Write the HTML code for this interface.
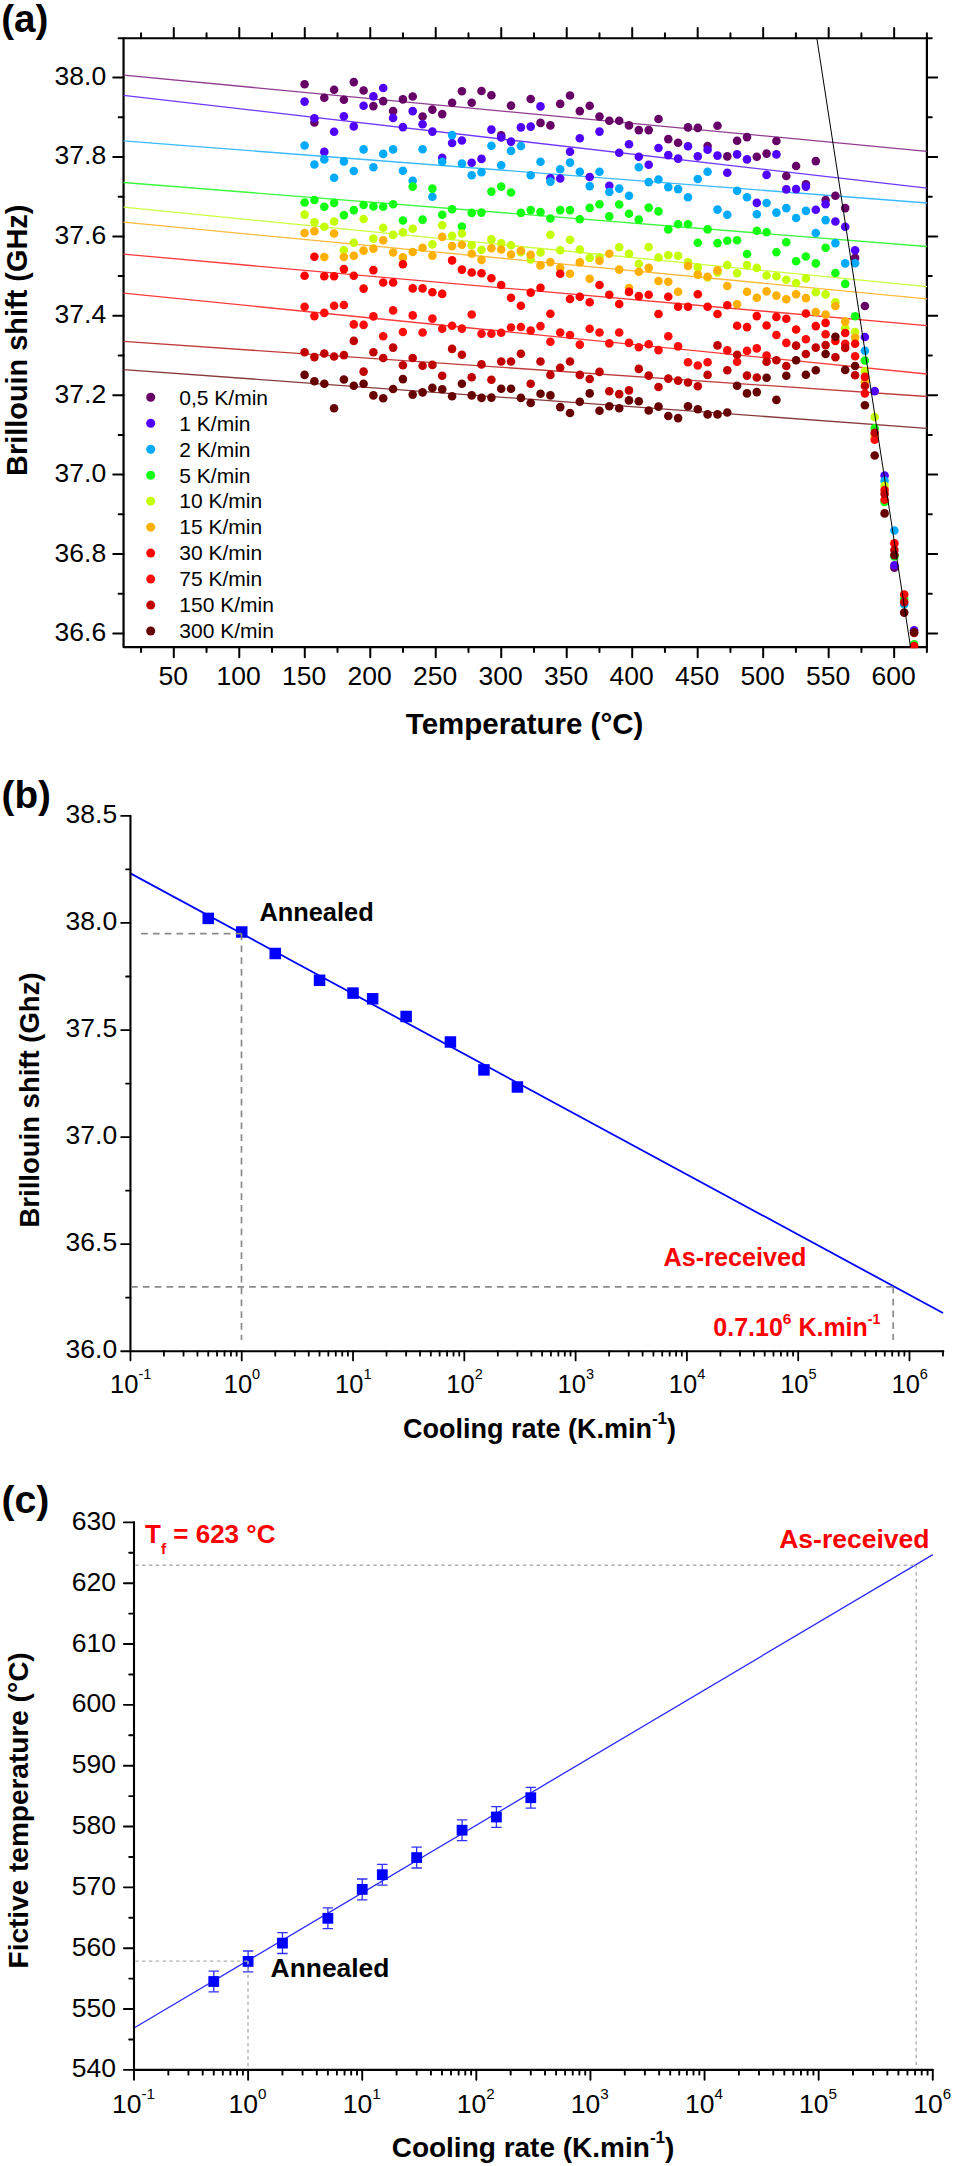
<!DOCTYPE html>
<html><head><meta charset="utf-8"><style>
html,body{margin:0;padding:0;background:#fff;width:954px;height:2166px;overflow:hidden;}
svg{display:block;font-family:"Liberation Sans", sans-serif;}
</style></head><body>
<svg width="954" height="2166" viewBox="0 0 954 2166">
<defs><clipPath id="clipA"><rect x="122.45" y="37.15" width="805.55" height="611.00"/></clipPath></defs>
<rect width="954" height="2166" fill="#fff"/>
<rect x="123.55" y="38.25" width="803.35" height="608.80" fill="none" stroke="#000" stroke-width="2.2" stroke-linejoin="round"/>
<text x="106.20" y="640.95" font-size="26.5" text-anchor="end" fill="#000" >36.6</text>
<text x="106.20" y="561.53" font-size="26.5" text-anchor="end" fill="#000" >36.8</text>
<text x="106.20" y="482.12" font-size="26.5" text-anchor="end" fill="#000" >37.0</text>
<text x="106.20" y="402.71" font-size="26.5" text-anchor="end" fill="#000" >37.2</text>
<text x="106.20" y="323.29" font-size="26.5" text-anchor="end" fill="#000" >37.4</text>
<text x="106.20" y="243.88" font-size="26.5" text-anchor="end" fill="#000" >37.6</text>
<text x="106.20" y="164.46" font-size="26.5" text-anchor="end" fill="#000" >37.8</text>
<text x="106.20" y="85.05" font-size="26.5" text-anchor="end" fill="#000" >38.0</text>
<text x="173.19" y="685.20" font-size="26.5" text-anchor="middle" fill="#000" >50</text>
<text x="238.68" y="685.20" font-size="26.5" text-anchor="middle" fill="#000" >100</text>
<text x="304.17" y="685.20" font-size="26.5" text-anchor="middle" fill="#000" >150</text>
<text x="369.66" y="685.20" font-size="26.5" text-anchor="middle" fill="#000" >200</text>
<text x="435.14" y="685.20" font-size="26.5" text-anchor="middle" fill="#000" >250</text>
<text x="500.63" y="685.20" font-size="26.5" text-anchor="middle" fill="#000" >300</text>
<text x="566.12" y="685.20" font-size="26.5" text-anchor="middle" fill="#000" >350</text>
<text x="631.61" y="685.20" font-size="26.5" text-anchor="middle" fill="#000" >400</text>
<text x="697.09" y="685.20" font-size="26.5" text-anchor="middle" fill="#000" >450</text>
<text x="762.58" y="685.20" font-size="26.5" text-anchor="middle" fill="#000" >500</text>
<text x="828.07" y="685.20" font-size="26.5" text-anchor="middle" fill="#000" >550</text>
<text x="893.56" y="685.20" font-size="26.5" text-anchor="middle" fill="#000" >600</text>
<path d="M123.55,633.45L113.25,633.45M926.90,633.45L937.20,633.45M123.55,593.74L118.65,593.74M926.90,593.74L931.80,593.74M123.55,554.03L113.25,554.03M926.90,554.03L937.20,554.03M123.55,514.33L118.65,514.33M926.90,514.33L931.80,514.33M123.55,474.62L113.25,474.62M926.90,474.62L937.20,474.62M123.55,434.91L118.65,434.91M926.90,434.91L931.80,434.91M123.55,395.21L113.25,395.21M926.90,395.21L937.20,395.21M123.55,355.50L118.65,355.50M926.90,355.50L931.80,355.50M123.55,315.79L113.25,315.79M926.90,315.79L937.20,315.79M123.55,276.08L118.65,276.08M926.90,276.08L931.80,276.08M123.55,236.38L113.25,236.38M926.90,236.38L937.20,236.38M123.55,196.67L118.65,196.67M926.90,196.67L931.80,196.67M123.55,156.96L113.25,156.96M926.90,156.96L937.20,156.96M123.55,117.26L118.65,117.26M926.90,117.26L931.80,117.26M123.55,77.55L113.25,77.55M926.90,77.55L937.20,77.55M123.55,38.25L118.65,38.25M926.90,38.25L931.80,38.25M141.05,38.25L141.05,33.35M141.05,647.05L141.05,651.95M173.79,38.25L173.79,28.05M173.79,647.05L173.79,657.25M206.54,38.25L206.54,33.35M206.54,647.05L206.54,651.95M239.28,38.25L239.28,28.05M239.28,647.05L239.28,657.25M272.02,38.25L272.02,33.35M272.02,647.05L272.02,651.95M304.77,38.25L304.77,28.05M304.77,647.05L304.77,657.25M337.51,38.25L337.51,33.35M337.51,647.05L337.51,651.95M370.26,38.25L370.26,28.05M370.26,647.05L370.26,657.25M403.00,38.25L403.00,33.35M403.00,647.05L403.00,651.95M435.74,38.25L435.74,28.05M435.74,647.05L435.74,657.25M468.49,38.25L468.49,33.35M468.49,647.05L468.49,651.95M501.23,38.25L501.23,28.05M501.23,647.05L501.23,657.25M533.98,38.25L533.98,33.35M533.98,647.05L533.98,651.95M566.72,38.25L566.72,28.05M566.72,647.05L566.72,657.25M599.46,38.25L599.46,33.35M599.46,647.05L599.46,651.95M632.21,38.25L632.21,28.05M632.21,647.05L632.21,657.25M664.95,38.25L664.95,33.35M664.95,647.05L664.95,651.95M697.69,38.25L697.69,28.05M697.69,647.05L697.69,657.25M730.44,38.25L730.44,33.35M730.44,647.05L730.44,651.95M763.18,38.25L763.18,28.05M763.18,647.05L763.18,657.25M795.92,38.25L795.92,33.35M795.92,647.05L795.92,651.95M828.67,38.25L828.67,28.05M828.67,647.05L828.67,657.25M861.41,38.25L861.41,33.35M861.41,647.05L861.41,651.95M894.16,38.25L894.16,28.05M894.16,647.05L894.16,657.25M926.90,38.25L926.90,33.35M926.90,647.05L926.90,651.95" stroke="#000" stroke-width="2.0" stroke-linecap="round" fill="none"/>
<text x="524.60" y="734.30" font-size="29.5" font-weight="bold" text-anchor="middle" fill="#000" >Temperature (°C)</text>
<text transform="translate(27.3,340.3) rotate(-90)" font-size="28.9" font-weight="bold" text-anchor="middle">Brillouin shift (GHz)</text>
<text x="1.20" y="31.70" font-size="38.7" font-weight="bold" text-anchor="start" fill="#000" >(a)</text>
<g clip-path="url(#clipA)">
<line x1="123.55" y1="75.20" x2="926.90" y2="151.30" stroke="#903c90" stroke-width="1.35" />
<line x1="123.55" y1="95.30" x2="926.90" y2="188.20" stroke="#7038ff" stroke-width="1.35" />
<line x1="123.55" y1="140.90" x2="926.90" y2="203.00" stroke="#3cbaff" stroke-width="1.35" />
<line x1="123.55" y1="182.50" x2="926.90" y2="246.50" stroke="#3cf83c" stroke-width="1.35" />
<line x1="123.55" y1="207.20" x2="926.90" y2="286.70" stroke="#caff3c" stroke-width="1.35" />
<line x1="123.55" y1="222.20" x2="926.90" y2="298.80" stroke="#ffba3c" stroke-width="1.35" />
<line x1="123.55" y1="254.20" x2="926.90" y2="325.70" stroke="#ff3a3a" stroke-width="1.35" />
<line x1="123.55" y1="293.10" x2="926.90" y2="374.00" stroke="#ff3c3c" stroke-width="1.35" />
<line x1="123.55" y1="341.40" x2="926.90" y2="396.50" stroke="#c03c3c" stroke-width="1.35" />
<line x1="123.55" y1="369.60" x2="926.90" y2="428.30" stroke="#883a3a" stroke-width="1.35" />
<circle cx="304.6" cy="84.3" r="4.3" fill="#660066"/>
<circle cx="314.4" cy="122.5" r="4.3" fill="#660066"/>
<circle cx="324.3" cy="97.7" r="4.3" fill="#660066"/>
<circle cx="334.1" cy="89.8" r="4.3" fill="#660066"/>
<circle cx="343.9" cy="99.7" r="4.3" fill="#660066"/>
<circle cx="353.8" cy="82.1" r="4.3" fill="#660066"/>
<circle cx="363.6" cy="90.5" r="4.3" fill="#660066"/>
<circle cx="373.4" cy="106.1" r="4.3" fill="#660066"/>
<circle cx="383.2" cy="101.1" r="4.3" fill="#660066"/>
<circle cx="393.1" cy="111.1" r="4.3" fill="#660066"/>
<circle cx="402.9" cy="99.4" r="4.3" fill="#660066"/>
<circle cx="412.7" cy="96.5" r="4.3" fill="#660066"/>
<circle cx="422.6" cy="116.5" r="4.3" fill="#660066"/>
<circle cx="432.4" cy="109.6" r="4.3" fill="#660066"/>
<circle cx="442.2" cy="114.1" r="4.3" fill="#660066"/>
<circle cx="452.1" cy="102.7" r="4.3" fill="#660066"/>
<circle cx="461.9" cy="91.3" r="4.3" fill="#660066"/>
<circle cx="471.7" cy="102.7" r="4.3" fill="#660066"/>
<circle cx="481.5" cy="91.0" r="4.3" fill="#660066"/>
<circle cx="491.4" cy="95.2" r="4.3" fill="#660066"/>
<circle cx="501.2" cy="135.4" r="4.3" fill="#660066"/>
<circle cx="511.0" cy="105.6" r="4.3" fill="#660066"/>
<circle cx="530.7" cy="99.0" r="4.3" fill="#660066"/>
<circle cx="540.5" cy="122.9" r="4.3" fill="#660066"/>
<circle cx="550.4" cy="125.4" r="4.3" fill="#660066"/>
<circle cx="560.2" cy="103.9" r="4.3" fill="#660066"/>
<circle cx="570.0" cy="95.5" r="4.3" fill="#660066"/>
<circle cx="579.8" cy="111.1" r="4.3" fill="#660066"/>
<circle cx="589.7" cy="105.8" r="4.3" fill="#660066"/>
<circle cx="599.5" cy="116.5" r="4.3" fill="#660066"/>
<circle cx="609.3" cy="120.8" r="4.3" fill="#660066"/>
<circle cx="619.2" cy="120.8" r="4.3" fill="#660066"/>
<circle cx="629.0" cy="125.4" r="4.3" fill="#660066"/>
<circle cx="638.8" cy="130.1" r="4.3" fill="#660066"/>
<circle cx="648.7" cy="130.1" r="4.3" fill="#660066"/>
<circle cx="658.5" cy="119.0" r="4.3" fill="#660066"/>
<circle cx="668.3" cy="139.1" r="4.3" fill="#660066"/>
<circle cx="678.1" cy="142.7" r="4.3" fill="#660066"/>
<circle cx="688.0" cy="127.4" r="4.3" fill="#660066"/>
<circle cx="697.8" cy="127.9" r="4.3" fill="#660066"/>
<circle cx="707.6" cy="146.0" r="4.3" fill="#660066"/>
<circle cx="717.5" cy="125.7" r="4.3" fill="#660066"/>
<circle cx="727.3" cy="156.4" r="4.3" fill="#660066"/>
<circle cx="737.1" cy="140.8" r="4.3" fill="#660066"/>
<circle cx="747.0" cy="137.1" r="4.3" fill="#660066"/>
<circle cx="756.8" cy="156.7" r="4.3" fill="#660066"/>
<circle cx="766.6" cy="153.6" r="4.3" fill="#660066"/>
<circle cx="776.4" cy="141.0" r="4.3" fill="#660066"/>
<circle cx="786.3" cy="176.0" r="4.3" fill="#660066"/>
<circle cx="796.1" cy="166.0" r="4.3" fill="#660066"/>
<circle cx="805.9" cy="184.4" r="4.3" fill="#660066"/>
<circle cx="815.8" cy="161.1" r="4.3" fill="#660066"/>
<circle cx="825.6" cy="200.0" r="4.3" fill="#660066"/>
<circle cx="835.4" cy="195.8" r="4.3" fill="#660066"/>
<circle cx="845.2" cy="208.1" r="4.3" fill="#660066"/>
<circle cx="855.1" cy="257.9" r="4.3" fill="#660066"/>
<circle cx="864.9" cy="306.0" r="4.3" fill="#660066"/>
<circle cx="894.4" cy="567.7" r="4.3" fill="#660066"/>
<circle cx="304.6" cy="101.6" r="4.3" fill="#4f00ff"/>
<circle cx="314.4" cy="118.3" r="4.3" fill="#4f00ff"/>
<circle cx="324.3" cy="151.9" r="4.3" fill="#4f00ff"/>
<circle cx="334.1" cy="131.8" r="4.3" fill="#4f00ff"/>
<circle cx="343.9" cy="116.3" r="4.3" fill="#4f00ff"/>
<circle cx="353.8" cy="126.4" r="4.3" fill="#4f00ff"/>
<circle cx="363.6" cy="105.8" r="4.3" fill="#4f00ff"/>
<circle cx="373.4" cy="96.4" r="4.3" fill="#4f00ff"/>
<circle cx="383.2" cy="88.0" r="4.3" fill="#4f00ff"/>
<circle cx="393.1" cy="118.0" r="4.3" fill="#4f00ff"/>
<circle cx="402.9" cy="127.1" r="4.3" fill="#4f00ff"/>
<circle cx="412.7" cy="111.1" r="4.3" fill="#4f00ff"/>
<circle cx="422.6" cy="124.2" r="4.3" fill="#4f00ff"/>
<circle cx="432.4" cy="131.6" r="4.3" fill="#4f00ff"/>
<circle cx="442.2" cy="157.7" r="4.3" fill="#4f00ff"/>
<circle cx="452.1" cy="143.0" r="4.3" fill="#4f00ff"/>
<circle cx="461.9" cy="140.5" r="4.3" fill="#4f00ff"/>
<circle cx="471.7" cy="162.8" r="4.3" fill="#4f00ff"/>
<circle cx="481.5" cy="158.9" r="4.3" fill="#4f00ff"/>
<circle cx="491.4" cy="129.6" r="4.3" fill="#4f00ff"/>
<circle cx="501.2" cy="137.5" r="4.3" fill="#4f00ff"/>
<circle cx="511.0" cy="141.6" r="4.3" fill="#4f00ff"/>
<circle cx="520.9" cy="127.4" r="4.3" fill="#4f00ff"/>
<circle cx="530.7" cy="126.6" r="4.3" fill="#4f00ff"/>
<circle cx="540.5" cy="106.4" r="4.3" fill="#4f00ff"/>
<circle cx="550.4" cy="178.2" r="4.3" fill="#4f00ff"/>
<circle cx="560.2" cy="178.5" r="4.3" fill="#4f00ff"/>
<circle cx="570.0" cy="151.7" r="4.3" fill="#4f00ff"/>
<circle cx="579.8" cy="138.3" r="4.3" fill="#4f00ff"/>
<circle cx="589.7" cy="177.0" r="4.3" fill="#4f00ff"/>
<circle cx="599.5" cy="131.6" r="4.3" fill="#4f00ff"/>
<circle cx="609.3" cy="185.8" r="4.3" fill="#4f00ff"/>
<circle cx="619.2" cy="152.7" r="4.3" fill="#4f00ff"/>
<circle cx="629.0" cy="144.2" r="4.3" fill="#4f00ff"/>
<circle cx="638.8" cy="156.7" r="4.3" fill="#4f00ff"/>
<circle cx="648.7" cy="164.8" r="4.3" fill="#4f00ff"/>
<circle cx="658.5" cy="148.0" r="4.3" fill="#4f00ff"/>
<circle cx="668.3" cy="155.1" r="4.3" fill="#4f00ff"/>
<circle cx="678.1" cy="158.6" r="4.3" fill="#4f00ff"/>
<circle cx="688.0" cy="146.3" r="4.3" fill="#4f00ff"/>
<circle cx="697.8" cy="156.4" r="4.3" fill="#4f00ff"/>
<circle cx="707.6" cy="149.7" r="4.3" fill="#4f00ff"/>
<circle cx="717.5" cy="155.6" r="4.3" fill="#4f00ff"/>
<circle cx="727.3" cy="172.7" r="4.3" fill="#4f00ff"/>
<circle cx="737.1" cy="154.4" r="4.3" fill="#4f00ff"/>
<circle cx="747.0" cy="159.4" r="4.3" fill="#4f00ff"/>
<circle cx="756.8" cy="202.9" r="4.3" fill="#4f00ff"/>
<circle cx="766.6" cy="174.9" r="4.3" fill="#4f00ff"/>
<circle cx="776.4" cy="154.4" r="4.3" fill="#4f00ff"/>
<circle cx="786.3" cy="189.4" r="4.3" fill="#4f00ff"/>
<circle cx="796.1" cy="189.1" r="4.3" fill="#4f00ff"/>
<circle cx="805.9" cy="186.6" r="4.3" fill="#4f00ff"/>
<circle cx="815.8" cy="209.7" r="4.3" fill="#4f00ff"/>
<circle cx="825.6" cy="204.2" r="4.3" fill="#4f00ff"/>
<circle cx="835.4" cy="221.5" r="4.3" fill="#4f00ff"/>
<circle cx="845.2" cy="226.8" r="4.3" fill="#4f00ff"/>
<circle cx="855.1" cy="250.3" r="4.3" fill="#4f00ff"/>
<circle cx="864.9" cy="337.0" r="4.3" fill="#4f00ff"/>
<circle cx="874.7" cy="391.1" r="4.3" fill="#4f00ff"/>
<circle cx="884.6" cy="475.5" r="4.3" fill="#4f00ff"/>
<circle cx="894.4" cy="565.2" r="4.3" fill="#4f00ff"/>
<circle cx="914.1" cy="630.2" r="4.3" fill="#4f00ff"/>
<circle cx="304.6" cy="145.5" r="4.3" fill="#00aaff"/>
<circle cx="314.4" cy="164.5" r="4.3" fill="#00aaff"/>
<circle cx="324.3" cy="159.4" r="4.3" fill="#00aaff"/>
<circle cx="334.1" cy="177.7" r="4.3" fill="#00aaff"/>
<circle cx="343.9" cy="161.4" r="4.3" fill="#00aaff"/>
<circle cx="353.8" cy="171.0" r="4.3" fill="#00aaff"/>
<circle cx="363.6" cy="149.4" r="4.3" fill="#00aaff"/>
<circle cx="373.4" cy="167.3" r="4.3" fill="#00aaff"/>
<circle cx="383.2" cy="153.9" r="4.3" fill="#00aaff"/>
<circle cx="393.1" cy="149.4" r="4.3" fill="#00aaff"/>
<circle cx="402.9" cy="170.7" r="4.3" fill="#00aaff"/>
<circle cx="412.7" cy="180.7" r="4.3" fill="#00aaff"/>
<circle cx="422.6" cy="149.2" r="4.3" fill="#00aaff"/>
<circle cx="432.4" cy="196.7" r="4.3" fill="#00aaff"/>
<circle cx="442.2" cy="161.8" r="4.3" fill="#00aaff"/>
<circle cx="452.1" cy="135.1" r="4.3" fill="#00aaff"/>
<circle cx="461.9" cy="163.6" r="4.3" fill="#00aaff"/>
<circle cx="471.7" cy="175.2" r="4.3" fill="#00aaff"/>
<circle cx="481.5" cy="172.3" r="4.3" fill="#00aaff"/>
<circle cx="491.4" cy="145.8" r="4.3" fill="#00aaff"/>
<circle cx="501.2" cy="165.3" r="4.3" fill="#00aaff"/>
<circle cx="511.0" cy="150.9" r="4.3" fill="#00aaff"/>
<circle cx="520.9" cy="146.0" r="4.3" fill="#00aaff"/>
<circle cx="530.7" cy="175.2" r="4.3" fill="#00aaff"/>
<circle cx="540.5" cy="161.8" r="4.3" fill="#00aaff"/>
<circle cx="550.4" cy="181.6" r="4.3" fill="#00aaff"/>
<circle cx="560.2" cy="169.3" r="4.3" fill="#00aaff"/>
<circle cx="570.0" cy="162.6" r="4.3" fill="#00aaff"/>
<circle cx="579.8" cy="171.7" r="4.3" fill="#00aaff"/>
<circle cx="589.7" cy="186.1" r="4.3" fill="#00aaff"/>
<circle cx="599.5" cy="171.7" r="4.3" fill="#00aaff"/>
<circle cx="609.3" cy="192.0" r="4.3" fill="#00aaff"/>
<circle cx="619.2" cy="188.6" r="4.3" fill="#00aaff"/>
<circle cx="629.0" cy="195.8" r="4.3" fill="#00aaff"/>
<circle cx="638.8" cy="167.3" r="4.3" fill="#00aaff"/>
<circle cx="648.7" cy="182.1" r="4.3" fill="#00aaff"/>
<circle cx="658.5" cy="179.5" r="4.3" fill="#00aaff"/>
<circle cx="668.3" cy="187.1" r="4.3" fill="#00aaff"/>
<circle cx="678.1" cy="189.1" r="4.3" fill="#00aaff"/>
<circle cx="688.0" cy="197.2" r="4.3" fill="#00aaff"/>
<circle cx="697.8" cy="179.0" r="4.3" fill="#00aaff"/>
<circle cx="707.6" cy="171.8" r="4.3" fill="#00aaff"/>
<circle cx="717.5" cy="209.6" r="4.3" fill="#00aaff"/>
<circle cx="727.3" cy="214.8" r="4.3" fill="#00aaff"/>
<circle cx="737.1" cy="190.8" r="4.3" fill="#00aaff"/>
<circle cx="747.0" cy="197.2" r="4.3" fill="#00aaff"/>
<circle cx="756.8" cy="214.3" r="4.3" fill="#00aaff"/>
<circle cx="766.6" cy="203.0" r="4.3" fill="#00aaff"/>
<circle cx="776.4" cy="212.6" r="4.3" fill="#00aaff"/>
<circle cx="786.3" cy="208.1" r="4.3" fill="#00aaff"/>
<circle cx="796.1" cy="218.0" r="4.3" fill="#00aaff"/>
<circle cx="805.9" cy="210.9" r="4.3" fill="#00aaff"/>
<circle cx="815.8" cy="233.0" r="4.3" fill="#00aaff"/>
<circle cx="825.6" cy="220.1" r="4.3" fill="#00aaff"/>
<circle cx="835.4" cy="243.1" r="4.3" fill="#00aaff"/>
<circle cx="845.2" cy="263.4" r="4.3" fill="#00aaff"/>
<circle cx="855.1" cy="263.2" r="4.3" fill="#00aaff"/>
<circle cx="864.9" cy="350.7" r="4.3" fill="#00aaff"/>
<circle cx="884.6" cy="480.9" r="4.3" fill="#00aaff"/>
<circle cx="894.4" cy="530.5" r="4.3" fill="#00aaff"/>
<circle cx="904.2" cy="604.2" r="4.3" fill="#00aaff"/>
<circle cx="304.6" cy="202.5" r="4.3" fill="#11ff11"/>
<circle cx="314.4" cy="200.0" r="4.3" fill="#11ff11"/>
<circle cx="324.3" cy="206.7" r="4.3" fill="#11ff11"/>
<circle cx="334.1" cy="202.9" r="4.3" fill="#11ff11"/>
<circle cx="343.9" cy="215.1" r="4.3" fill="#11ff11"/>
<circle cx="353.8" cy="210.1" r="4.3" fill="#11ff11"/>
<circle cx="363.6" cy="205.0" r="4.3" fill="#11ff11"/>
<circle cx="373.4" cy="206.4" r="4.3" fill="#11ff11"/>
<circle cx="383.2" cy="206.7" r="4.3" fill="#11ff11"/>
<circle cx="393.1" cy="204.2" r="4.3" fill="#11ff11"/>
<circle cx="402.9" cy="220.5" r="4.3" fill="#11ff11"/>
<circle cx="412.7" cy="186.6" r="4.3" fill="#11ff11"/>
<circle cx="422.6" cy="219.6" r="4.3" fill="#11ff11"/>
<circle cx="432.4" cy="188.6" r="4.3" fill="#11ff11"/>
<circle cx="442.2" cy="214.8" r="4.3" fill="#11ff11"/>
<circle cx="452.1" cy="209.2" r="4.3" fill="#11ff11"/>
<circle cx="461.9" cy="226.5" r="4.3" fill="#11ff11"/>
<circle cx="471.7" cy="212.9" r="4.3" fill="#11ff11"/>
<circle cx="481.5" cy="212.6" r="4.3" fill="#11ff11"/>
<circle cx="491.4" cy="191.6" r="4.3" fill="#11ff11"/>
<circle cx="501.2" cy="186.6" r="4.3" fill="#11ff11"/>
<circle cx="511.0" cy="192.5" r="4.3" fill="#11ff11"/>
<circle cx="520.9" cy="212.9" r="4.3" fill="#11ff11"/>
<circle cx="530.7" cy="210.1" r="4.3" fill="#11ff11"/>
<circle cx="540.5" cy="212.1" r="4.3" fill="#11ff11"/>
<circle cx="550.4" cy="218.5" r="4.3" fill="#11ff11"/>
<circle cx="560.2" cy="210.1" r="4.3" fill="#11ff11"/>
<circle cx="570.0" cy="210.1" r="4.3" fill="#11ff11"/>
<circle cx="579.8" cy="219.3" r="4.3" fill="#11ff11"/>
<circle cx="589.7" cy="207.9" r="4.3" fill="#11ff11"/>
<circle cx="599.5" cy="204.2" r="4.3" fill="#11ff11"/>
<circle cx="609.3" cy="216.4" r="4.3" fill="#11ff11"/>
<circle cx="619.2" cy="204.5" r="4.3" fill="#11ff11"/>
<circle cx="629.0" cy="213.8" r="4.3" fill="#11ff11"/>
<circle cx="638.8" cy="219.6" r="4.3" fill="#11ff11"/>
<circle cx="648.7" cy="207.6" r="4.3" fill="#11ff11"/>
<circle cx="658.5" cy="211.4" r="4.3" fill="#11ff11"/>
<circle cx="668.3" cy="229.4" r="4.3" fill="#11ff11"/>
<circle cx="678.1" cy="224.3" r="4.3" fill="#11ff11"/>
<circle cx="688.0" cy="224.3" r="4.3" fill="#11ff11"/>
<circle cx="697.8" cy="242.8" r="4.3" fill="#11ff11"/>
<circle cx="707.6" cy="229.4" r="4.3" fill="#11ff11"/>
<circle cx="717.5" cy="243.1" r="4.3" fill="#11ff11"/>
<circle cx="727.3" cy="240.8" r="4.3" fill="#11ff11"/>
<circle cx="737.1" cy="240.3" r="4.3" fill="#11ff11"/>
<circle cx="756.8" cy="230.7" r="4.3" fill="#11ff11"/>
<circle cx="747.0" cy="254.0" r="4.3" fill="#11ff11"/>
<circle cx="766.6" cy="232.2" r="4.3" fill="#11ff11"/>
<circle cx="776.4" cy="252.3" r="4.3" fill="#11ff11"/>
<circle cx="786.3" cy="242.3" r="4.3" fill="#11ff11"/>
<circle cx="796.1" cy="261.2" r="4.3" fill="#11ff11"/>
<circle cx="805.9" cy="256.5" r="4.3" fill="#11ff11"/>
<circle cx="815.8" cy="263.4" r="4.3" fill="#11ff11"/>
<circle cx="825.6" cy="247.8" r="4.3" fill="#11ff11"/>
<circle cx="835.4" cy="273.0" r="4.3" fill="#11ff11"/>
<circle cx="845.2" cy="283.9" r="4.3" fill="#11ff11"/>
<circle cx="855.1" cy="316.2" r="4.3" fill="#11ff11"/>
<circle cx="864.9" cy="360.5" r="4.3" fill="#11ff11"/>
<circle cx="874.7" cy="428.4" r="4.3" fill="#11ff11"/>
<circle cx="884.6" cy="501.9" r="4.3" fill="#11ff11"/>
<circle cx="894.4" cy="556.4" r="4.3" fill="#11ff11"/>
<circle cx="904.2" cy="599.1" r="4.3" fill="#11ff11"/>
<circle cx="914.1" cy="644.4" r="4.3" fill="#11ff11"/>
<circle cx="304.6" cy="214.6" r="4.3" fill="#c4ff05"/>
<circle cx="314.4" cy="222.3" r="4.3" fill="#c4ff05"/>
<circle cx="324.3" cy="226.8" r="4.3" fill="#c4ff05"/>
<circle cx="334.1" cy="221.5" r="4.3" fill="#c4ff05"/>
<circle cx="343.9" cy="250.3" r="4.3" fill="#c4ff05"/>
<circle cx="353.8" cy="242.8" r="4.3" fill="#c4ff05"/>
<circle cx="363.6" cy="219.0" r="4.3" fill="#c4ff05"/>
<circle cx="373.4" cy="238.6" r="4.3" fill="#c4ff05"/>
<circle cx="383.2" cy="227.7" r="4.3" fill="#c4ff05"/>
<circle cx="393.1" cy="234.9" r="4.3" fill="#c4ff05"/>
<circle cx="402.9" cy="232.4" r="4.3" fill="#c4ff05"/>
<circle cx="412.7" cy="228.8" r="4.3" fill="#c4ff05"/>
<circle cx="432.4" cy="244.4" r="4.3" fill="#c4ff05"/>
<circle cx="442.2" cy="225.2" r="4.3" fill="#c4ff05"/>
<circle cx="452.1" cy="235.7" r="4.3" fill="#c4ff05"/>
<circle cx="461.9" cy="233.5" r="4.3" fill="#c4ff05"/>
<circle cx="471.7" cy="245.3" r="4.3" fill="#c4ff05"/>
<circle cx="481.5" cy="249.8" r="4.3" fill="#c4ff05"/>
<circle cx="491.4" cy="239.4" r="4.3" fill="#c4ff05"/>
<circle cx="501.2" cy="243.3" r="4.3" fill="#c4ff05"/>
<circle cx="511.0" cy="245.3" r="4.3" fill="#c4ff05"/>
<circle cx="520.9" cy="252.3" r="4.3" fill="#c4ff05"/>
<circle cx="530.7" cy="259.5" r="4.3" fill="#c4ff05"/>
<circle cx="540.5" cy="252.5" r="4.3" fill="#c4ff05"/>
<circle cx="550.4" cy="234.7" r="4.3" fill="#c4ff05"/>
<circle cx="560.2" cy="250.3" r="4.3" fill="#c4ff05"/>
<circle cx="570.0" cy="239.7" r="4.3" fill="#c4ff05"/>
<circle cx="579.8" cy="249.5" r="4.3" fill="#c4ff05"/>
<circle cx="589.7" cy="257.9" r="4.3" fill="#c4ff05"/>
<circle cx="599.5" cy="257.5" r="4.3" fill="#c4ff05"/>
<circle cx="619.2" cy="247.3" r="4.3" fill="#c4ff05"/>
<circle cx="629.0" cy="253.7" r="4.3" fill="#c4ff05"/>
<circle cx="638.8" cy="263.7" r="4.3" fill="#c4ff05"/>
<circle cx="648.7" cy="247.0" r="4.3" fill="#c4ff05"/>
<circle cx="658.5" cy="257.5" r="4.3" fill="#c4ff05"/>
<circle cx="668.3" cy="255.3" r="4.3" fill="#c4ff05"/>
<circle cx="678.1" cy="255.8" r="4.3" fill="#c4ff05"/>
<circle cx="688.0" cy="262.4" r="4.3" fill="#c4ff05"/>
<circle cx="697.8" cy="267.4" r="4.3" fill="#c4ff05"/>
<circle cx="707.6" cy="277.5" r="4.3" fill="#c4ff05"/>
<circle cx="717.5" cy="272.5" r="4.3" fill="#c4ff05"/>
<circle cx="727.3" cy="265.1" r="4.3" fill="#c4ff05"/>
<circle cx="737.1" cy="273.3" r="4.3" fill="#c4ff05"/>
<circle cx="747.0" cy="265.1" r="4.3" fill="#c4ff05"/>
<circle cx="756.8" cy="267.9" r="4.3" fill="#c4ff05"/>
<circle cx="766.6" cy="275.5" r="4.3" fill="#c4ff05"/>
<circle cx="776.4" cy="276.3" r="4.3" fill="#c4ff05"/>
<circle cx="786.3" cy="279.7" r="4.3" fill="#c4ff05"/>
<circle cx="796.1" cy="283.0" r="4.3" fill="#c4ff05"/>
<circle cx="805.9" cy="278.5" r="4.3" fill="#c4ff05"/>
<circle cx="815.8" cy="292.2" r="4.3" fill="#c4ff05"/>
<circle cx="825.6" cy="294.4" r="4.3" fill="#c4ff05"/>
<circle cx="835.4" cy="302.3" r="4.3" fill="#c4ff05"/>
<circle cx="845.2" cy="328.3" r="4.3" fill="#c4ff05"/>
<circle cx="855.1" cy="332.0" r="4.3" fill="#c4ff05"/>
<circle cx="864.9" cy="371.1" r="4.3" fill="#c4ff05"/>
<circle cx="874.7" cy="417.0" r="4.3" fill="#c4ff05"/>
<circle cx="884.6" cy="485.9" r="4.3" fill="#c4ff05"/>
<circle cx="304.6" cy="233.0" r="4.3" fill="#ffb000"/>
<circle cx="314.4" cy="231.2" r="4.3" fill="#ffb000"/>
<circle cx="324.3" cy="257.0" r="4.3" fill="#ffb000"/>
<circle cx="334.1" cy="233.5" r="4.3" fill="#ffb000"/>
<circle cx="343.9" cy="257.0" r="4.3" fill="#ffb000"/>
<circle cx="353.8" cy="255.8" r="4.3" fill="#ffb000"/>
<circle cx="363.6" cy="250.6" r="4.3" fill="#ffb000"/>
<circle cx="373.4" cy="248.6" r="4.3" fill="#ffb000"/>
<circle cx="383.2" cy="240.3" r="4.3" fill="#ffb000"/>
<circle cx="393.1" cy="252.5" r="4.3" fill="#ffb000"/>
<circle cx="402.9" cy="257.4" r="4.3" fill="#ffb000"/>
<circle cx="412.7" cy="252.0" r="4.3" fill="#ffb000"/>
<circle cx="422.6" cy="247.8" r="4.3" fill="#ffb000"/>
<circle cx="432.4" cy="255.8" r="4.3" fill="#ffb000"/>
<circle cx="442.2" cy="236.9" r="4.3" fill="#ffb000"/>
<circle cx="452.1" cy="246.1" r="4.3" fill="#ffb000"/>
<circle cx="461.9" cy="244.8" r="4.3" fill="#ffb000"/>
<circle cx="471.7" cy="253.7" r="4.3" fill="#ffb000"/>
<circle cx="481.5" cy="259.9" r="4.3" fill="#ffb000"/>
<circle cx="491.4" cy="248.3" r="4.3" fill="#ffb000"/>
<circle cx="501.2" cy="249.5" r="4.3" fill="#ffb000"/>
<circle cx="511.0" cy="254.5" r="4.3" fill="#ffb000"/>
<circle cx="520.9" cy="250.8" r="4.3" fill="#ffb000"/>
<circle cx="530.7" cy="254.8" r="4.3" fill="#ffb000"/>
<circle cx="540.5" cy="265.4" r="4.3" fill="#ffb000"/>
<circle cx="550.4" cy="262.1" r="4.3" fill="#ffb000"/>
<circle cx="560.2" cy="267.9" r="4.3" fill="#ffb000"/>
<circle cx="570.0" cy="273.8" r="4.3" fill="#ffb000"/>
<circle cx="579.8" cy="262.4" r="4.3" fill="#ffb000"/>
<circle cx="589.7" cy="278.8" r="4.3" fill="#ffb000"/>
<circle cx="599.5" cy="260.7" r="4.3" fill="#ffb000"/>
<circle cx="609.3" cy="253.7" r="4.3" fill="#ffb000"/>
<circle cx="619.2" cy="269.6" r="4.3" fill="#ffb000"/>
<circle cx="629.0" cy="288.1" r="4.3" fill="#ffb000"/>
<circle cx="638.8" cy="271.8" r="4.3" fill="#ffb000"/>
<circle cx="648.7" cy="267.9" r="4.3" fill="#ffb000"/>
<circle cx="658.5" cy="281.0" r="4.3" fill="#ffb000"/>
<circle cx="668.3" cy="281.7" r="4.3" fill="#ffb000"/>
<circle cx="678.1" cy="291.7" r="4.3" fill="#ffb000"/>
<circle cx="688.0" cy="265.9" r="4.3" fill="#ffb000"/>
<circle cx="697.8" cy="274.6" r="4.3" fill="#ffb000"/>
<circle cx="707.6" cy="276.8" r="4.3" fill="#ffb000"/>
<circle cx="717.5" cy="270.4" r="4.3" fill="#ffb000"/>
<circle cx="727.3" cy="286.0" r="4.3" fill="#ffb000"/>
<circle cx="737.1" cy="304.3" r="4.3" fill="#ffb000"/>
<circle cx="747.0" cy="291.7" r="4.3" fill="#ffb000"/>
<circle cx="756.8" cy="297.8" r="4.3" fill="#ffb000"/>
<circle cx="766.6" cy="291.4" r="4.3" fill="#ffb000"/>
<circle cx="776.4" cy="295.6" r="4.3" fill="#ffb000"/>
<circle cx="786.3" cy="299.3" r="4.3" fill="#ffb000"/>
<circle cx="796.1" cy="294.3" r="4.3" fill="#ffb000"/>
<circle cx="805.9" cy="298.1" r="4.3" fill="#ffb000"/>
<circle cx="815.8" cy="312.0" r="4.3" fill="#ffb000"/>
<circle cx="825.6" cy="314.5" r="4.3" fill="#ffb000"/>
<circle cx="835.4" cy="306.0" r="4.3" fill="#ffb000"/>
<circle cx="845.2" cy="321.6" r="4.3" fill="#ffb000"/>
<circle cx="855.1" cy="337.5" r="4.3" fill="#ffb000"/>
<circle cx="864.9" cy="381.7" r="4.3" fill="#ffb000"/>
<circle cx="874.7" cy="435.9" r="4.3" fill="#ffb000"/>
<circle cx="304.6" cy="275.8" r="4.3" fill="#ff0000"/>
<circle cx="314.4" cy="256.7" r="4.3" fill="#ff0000"/>
<circle cx="324.3" cy="276.3" r="4.3" fill="#ff0000"/>
<circle cx="334.1" cy="276.3" r="4.3" fill="#ff0000"/>
<circle cx="343.9" cy="269.1" r="4.3" fill="#ff0000"/>
<circle cx="353.8" cy="275.8" r="4.3" fill="#ff0000"/>
<circle cx="363.6" cy="288.6" r="4.3" fill="#ff0000"/>
<circle cx="373.4" cy="270.1" r="4.3" fill="#ff0000"/>
<circle cx="383.2" cy="282.5" r="4.3" fill="#ff0000"/>
<circle cx="393.1" cy="282.5" r="4.3" fill="#ff0000"/>
<circle cx="402.9" cy="264.2" r="4.3" fill="#ff0000"/>
<circle cx="412.7" cy="288.4" r="4.3" fill="#ff0000"/>
<circle cx="422.6" cy="288.4" r="4.3" fill="#ff0000"/>
<circle cx="432.4" cy="292.2" r="4.3" fill="#ff0000"/>
<circle cx="442.2" cy="293.9" r="4.3" fill="#ff0000"/>
<circle cx="452.1" cy="260.4" r="4.3" fill="#ff0000"/>
<circle cx="461.9" cy="269.6" r="4.3" fill="#ff0000"/>
<circle cx="471.7" cy="272.5" r="4.3" fill="#ff0000"/>
<circle cx="481.5" cy="273.3" r="4.3" fill="#ff0000"/>
<circle cx="491.4" cy="278.3" r="4.3" fill="#ff0000"/>
<circle cx="501.2" cy="285.0" r="4.3" fill="#ff0000"/>
<circle cx="511.0" cy="297.8" r="4.3" fill="#ff0000"/>
<circle cx="520.9" cy="305.7" r="4.3" fill="#ff0000"/>
<circle cx="530.7" cy="292.6" r="4.3" fill="#ff0000"/>
<circle cx="540.5" cy="287.7" r="4.3" fill="#ff0000"/>
<circle cx="550.4" cy="313.7" r="4.3" fill="#ff0000"/>
<circle cx="560.2" cy="273.8" r="4.3" fill="#ff0000"/>
<circle cx="570.0" cy="299.0" r="4.3" fill="#ff0000"/>
<circle cx="579.8" cy="296.8" r="4.3" fill="#ff0000"/>
<circle cx="589.7" cy="302.3" r="4.3" fill="#ff0000"/>
<circle cx="599.5" cy="285.0" r="4.3" fill="#ff0000"/>
<circle cx="609.3" cy="294.8" r="4.3" fill="#ff0000"/>
<circle cx="619.2" cy="304.0" r="4.3" fill="#ff0000"/>
<circle cx="629.0" cy="291.9" r="4.3" fill="#ff0000"/>
<circle cx="638.8" cy="296.1" r="4.3" fill="#ff0000"/>
<circle cx="648.7" cy="294.8" r="4.3" fill="#ff0000"/>
<circle cx="658.5" cy="314.0" r="4.3" fill="#ff0000"/>
<circle cx="668.3" cy="296.8" r="4.3" fill="#ff0000"/>
<circle cx="678.1" cy="306.8" r="4.3" fill="#ff0000"/>
<circle cx="688.0" cy="306.8" r="4.3" fill="#ff0000"/>
<circle cx="697.8" cy="294.3" r="4.3" fill="#ff0000"/>
<circle cx="707.6" cy="306.8" r="4.3" fill="#ff0000"/>
<circle cx="717.5" cy="314.0" r="4.3" fill="#ff0000"/>
<circle cx="727.3" cy="305.3" r="4.3" fill="#ff0000"/>
<circle cx="737.1" cy="325.8" r="4.3" fill="#ff0000"/>
<circle cx="747.0" cy="327.1" r="4.3" fill="#ff0000"/>
<circle cx="756.8" cy="316.1" r="4.3" fill="#ff0000"/>
<circle cx="766.6" cy="325.5" r="4.3" fill="#ff0000"/>
<circle cx="776.4" cy="316.9" r="4.3" fill="#ff0000"/>
<circle cx="786.3" cy="318.7" r="4.3" fill="#ff0000"/>
<circle cx="796.1" cy="329.5" r="4.3" fill="#ff0000"/>
<circle cx="805.9" cy="313.5" r="4.3" fill="#ff0000"/>
<circle cx="815.8" cy="326.1" r="4.3" fill="#ff0000"/>
<circle cx="825.6" cy="322.9" r="4.3" fill="#ff0000"/>
<circle cx="835.4" cy="340.9" r="4.3" fill="#ff0000"/>
<circle cx="845.2" cy="333.0" r="4.3" fill="#ff0000"/>
<circle cx="855.1" cy="343.7" r="4.3" fill="#ff0000"/>
<circle cx="864.9" cy="376.9" r="4.3" fill="#ff0000"/>
<circle cx="864.9" cy="393.5" r="4.3" fill="#ff0000"/>
<circle cx="884.6" cy="490.1" r="4.3" fill="#ff0000"/>
<circle cx="894.4" cy="543.4" r="4.3" fill="#ff0000"/>
<circle cx="904.2" cy="594.5" r="4.3" fill="#ff0000"/>
<circle cx="914.1" cy="646.0" r="4.3" fill="#ff0000"/>
<circle cx="304.6" cy="306.7" r="4.3" fill="#ff0c0c"/>
<circle cx="314.4" cy="316.1" r="4.3" fill="#ff0c0c"/>
<circle cx="324.3" cy="312.9" r="4.3" fill="#ff0c0c"/>
<circle cx="334.1" cy="305.7" r="4.3" fill="#ff0c0c"/>
<circle cx="343.9" cy="305.0" r="4.3" fill="#ff0c0c"/>
<circle cx="353.8" cy="324.4" r="4.3" fill="#ff0c0c"/>
<circle cx="363.6" cy="324.9" r="4.3" fill="#ff0c0c"/>
<circle cx="373.4" cy="316.4" r="4.3" fill="#ff0c0c"/>
<circle cx="383.2" cy="336.2" r="4.3" fill="#ff0c0c"/>
<circle cx="393.1" cy="310.4" r="4.3" fill="#ff0c0c"/>
<circle cx="402.9" cy="332.0" r="4.3" fill="#ff0c0c"/>
<circle cx="412.7" cy="315.4" r="4.3" fill="#ff0c0c"/>
<circle cx="422.6" cy="332.5" r="4.3" fill="#ff0c0c"/>
<circle cx="432.4" cy="318.6" r="4.3" fill="#ff0c0c"/>
<circle cx="442.2" cy="328.8" r="4.3" fill="#ff0c0c"/>
<circle cx="452.1" cy="325.8" r="4.3" fill="#ff0c0c"/>
<circle cx="461.9" cy="328.6" r="4.3" fill="#ff0c0c"/>
<circle cx="471.7" cy="314.5" r="4.3" fill="#ff0c0c"/>
<circle cx="481.5" cy="333.8" r="4.3" fill="#ff0c0c"/>
<circle cx="491.4" cy="333.7" r="4.3" fill="#ff0c0c"/>
<circle cx="501.2" cy="332.8" r="4.3" fill="#ff0c0c"/>
<circle cx="511.0" cy="327.5" r="4.3" fill="#ff0c0c"/>
<circle cx="520.9" cy="327.0" r="4.3" fill="#ff0c0c"/>
<circle cx="530.7" cy="330.5" r="4.3" fill="#ff0c0c"/>
<circle cx="540.5" cy="326.1" r="4.3" fill="#ff0c0c"/>
<circle cx="550.4" cy="341.7" r="4.3" fill="#ff0c0c"/>
<circle cx="560.2" cy="332.5" r="4.3" fill="#ff0c0c"/>
<circle cx="570.0" cy="335.0" r="4.3" fill="#ff0c0c"/>
<circle cx="579.8" cy="344.6" r="4.3" fill="#ff0c0c"/>
<circle cx="589.7" cy="328.8" r="4.3" fill="#ff0c0c"/>
<circle cx="599.5" cy="332.5" r="4.3" fill="#ff0c0c"/>
<circle cx="609.3" cy="343.4" r="4.3" fill="#ff0c0c"/>
<circle cx="619.2" cy="332.5" r="4.3" fill="#ff0c0c"/>
<circle cx="629.0" cy="342.9" r="4.3" fill="#ff0c0c"/>
<circle cx="638.8" cy="347.3" r="4.3" fill="#ff0c0c"/>
<circle cx="648.7" cy="344.2" r="4.3" fill="#ff0c0c"/>
<circle cx="658.5" cy="350.1" r="4.3" fill="#ff0c0c"/>
<circle cx="668.3" cy="336.2" r="4.3" fill="#ff0c0c"/>
<circle cx="678.1" cy="346.4" r="4.3" fill="#ff0c0c"/>
<circle cx="688.0" cy="362.2" r="4.3" fill="#ff0c0c"/>
<circle cx="697.8" cy="365.5" r="4.3" fill="#ff0c0c"/>
<circle cx="707.6" cy="362.3" r="4.3" fill="#ff0c0c"/>
<circle cx="727.3" cy="350.4" r="4.3" fill="#ff0c0c"/>
<circle cx="737.1" cy="361.8" r="4.3" fill="#ff0c0c"/>
<circle cx="747.0" cy="350.9" r="4.3" fill="#ff0c0c"/>
<circle cx="756.8" cy="348.4" r="4.3" fill="#ff0c0c"/>
<circle cx="766.6" cy="355.6" r="4.3" fill="#ff0c0c"/>
<circle cx="776.4" cy="335.0" r="4.3" fill="#ff0c0c"/>
<circle cx="786.3" cy="342.9" r="4.3" fill="#ff0c0c"/>
<circle cx="805.9" cy="339.2" r="4.3" fill="#ff0c0c"/>
<circle cx="825.6" cy="334.2" r="4.3" fill="#ff0c0c"/>
<circle cx="845.2" cy="343.7" r="4.3" fill="#ff0c0c"/>
<circle cx="855.1" cy="356.3" r="4.3" fill="#ff0c0c"/>
<circle cx="874.7" cy="439.8" r="4.3" fill="#ff0c0c"/>
<circle cx="884.6" cy="499.8" r="4.3" fill="#ff0c0c"/>
<circle cx="304.6" cy="352.3" r="4.3" fill="#c00000"/>
<circle cx="314.4" cy="357.1" r="4.3" fill="#c00000"/>
<circle cx="324.3" cy="353.5" r="4.3" fill="#c00000"/>
<circle cx="334.1" cy="356.5" r="4.3" fill="#c00000"/>
<circle cx="343.9" cy="355.1" r="4.3" fill="#c00000"/>
<circle cx="353.8" cy="340.9" r="4.3" fill="#c00000"/>
<circle cx="363.6" cy="371.6" r="4.3" fill="#c00000"/>
<circle cx="373.4" cy="352.3" r="4.3" fill="#c00000"/>
<circle cx="383.2" cy="358.0" r="4.3" fill="#c00000"/>
<circle cx="393.1" cy="347.6" r="4.3" fill="#c00000"/>
<circle cx="402.9" cy="365.2" r="4.3" fill="#c00000"/>
<circle cx="412.7" cy="358.0" r="4.3" fill="#c00000"/>
<circle cx="422.6" cy="365.7" r="4.3" fill="#c00000"/>
<circle cx="432.4" cy="364.9" r="4.3" fill="#c00000"/>
<circle cx="442.2" cy="375.8" r="4.3" fill="#c00000"/>
<circle cx="452.1" cy="348.9" r="4.3" fill="#c00000"/>
<circle cx="461.9" cy="354.8" r="4.3" fill="#c00000"/>
<circle cx="471.7" cy="377.3" r="4.3" fill="#c00000"/>
<circle cx="481.5" cy="364.4" r="4.3" fill="#c00000"/>
<circle cx="491.4" cy="379.8" r="4.3" fill="#c00000"/>
<circle cx="501.2" cy="361.5" r="4.3" fill="#c00000"/>
<circle cx="511.0" cy="361.5" r="4.3" fill="#c00000"/>
<circle cx="520.9" cy="353.8" r="4.3" fill="#c00000"/>
<circle cx="530.7" cy="383.7" r="4.3" fill="#c00000"/>
<circle cx="540.5" cy="361.5" r="4.3" fill="#c00000"/>
<circle cx="550.4" cy="374.9" r="4.3" fill="#c00000"/>
<circle cx="560.2" cy="367.7" r="4.3" fill="#c00000"/>
<circle cx="570.0" cy="361.5" r="4.3" fill="#c00000"/>
<circle cx="579.8" cy="374.9" r="4.3" fill="#c00000"/>
<circle cx="589.7" cy="379.0" r="4.3" fill="#c00000"/>
<circle cx="599.5" cy="371.9" r="4.3" fill="#c00000"/>
<circle cx="609.3" cy="391.2" r="4.3" fill="#c00000"/>
<circle cx="619.2" cy="394.1" r="4.3" fill="#c00000"/>
<circle cx="629.0" cy="390.4" r="4.3" fill="#c00000"/>
<circle cx="638.8" cy="368.9" r="4.3" fill="#c00000"/>
<circle cx="648.7" cy="375.6" r="4.3" fill="#c00000"/>
<circle cx="658.5" cy="387.0" r="4.3" fill="#c00000"/>
<circle cx="668.3" cy="378.6" r="4.3" fill="#c00000"/>
<circle cx="678.1" cy="380.6" r="4.3" fill="#c00000"/>
<circle cx="688.0" cy="382.5" r="4.3" fill="#c00000"/>
<circle cx="697.8" cy="386.2" r="4.3" fill="#c00000"/>
<circle cx="707.6" cy="374.9" r="4.3" fill="#c00000"/>
<circle cx="717.5" cy="345.4" r="4.3" fill="#c00000"/>
<circle cx="727.3" cy="370.3" r="4.3" fill="#c00000"/>
<circle cx="737.1" cy="354.8" r="4.3" fill="#c00000"/>
<circle cx="747.0" cy="375.6" r="4.3" fill="#c00000"/>
<circle cx="756.8" cy="377.5" r="4.3" fill="#c00000"/>
<circle cx="766.6" cy="361.8" r="4.3" fill="#c00000"/>
<circle cx="776.4" cy="360.2" r="4.3" fill="#c00000"/>
<circle cx="786.3" cy="366.0" r="4.3" fill="#c00000"/>
<circle cx="796.1" cy="345.6" r="4.3" fill="#c00000"/>
<circle cx="805.9" cy="354.0" r="4.3" fill="#c00000"/>
<circle cx="815.8" cy="347.6" r="4.3" fill="#c00000"/>
<circle cx="825.6" cy="345.1" r="4.3" fill="#c00000"/>
<circle cx="835.4" cy="357.3" r="4.3" fill="#c00000"/>
<circle cx="845.2" cy="347.9" r="4.3" fill="#c00000"/>
<circle cx="855.1" cy="375.3" r="4.3" fill="#c00000"/>
<circle cx="864.9" cy="386.0" r="4.3" fill="#c00000"/>
<circle cx="874.7" cy="432.7" r="4.3" fill="#c00000"/>
<circle cx="884.6" cy="493.9" r="4.3" fill="#c00000"/>
<circle cx="894.4" cy="550.1" r="4.3" fill="#c00000"/>
<circle cx="904.2" cy="602.1" r="4.3" fill="#c00000"/>
<circle cx="914.1" cy="633.0" r="4.3" fill="#c00000"/>
<circle cx="304.6" cy="374.9" r="4.3" fill="#660000"/>
<circle cx="314.4" cy="381.2" r="4.3" fill="#660000"/>
<circle cx="324.3" cy="383.7" r="4.3" fill="#660000"/>
<circle cx="334.1" cy="408.2" r="4.3" fill="#660000"/>
<circle cx="343.9" cy="379.5" r="4.3" fill="#660000"/>
<circle cx="353.8" cy="385.8" r="4.3" fill="#660000"/>
<circle cx="363.6" cy="383.7" r="4.3" fill="#660000"/>
<circle cx="373.4" cy="395.4" r="4.3" fill="#660000"/>
<circle cx="383.2" cy="398.3" r="4.3" fill="#660000"/>
<circle cx="393.1" cy="389.0" r="4.3" fill="#660000"/>
<circle cx="402.9" cy="379.1" r="4.3" fill="#660000"/>
<circle cx="412.7" cy="394.6" r="4.3" fill="#660000"/>
<circle cx="422.6" cy="392.4" r="4.3" fill="#660000"/>
<circle cx="432.4" cy="387.9" r="4.3" fill="#660000"/>
<circle cx="442.2" cy="389.2" r="4.3" fill="#660000"/>
<circle cx="452.1" cy="396.2" r="4.3" fill="#660000"/>
<circle cx="461.9" cy="383.7" r="4.3" fill="#660000"/>
<circle cx="471.7" cy="395.4" r="4.3" fill="#660000"/>
<circle cx="481.5" cy="397.9" r="4.3" fill="#660000"/>
<circle cx="491.4" cy="397.6" r="4.3" fill="#660000"/>
<circle cx="501.2" cy="388.7" r="4.3" fill="#660000"/>
<circle cx="511.0" cy="388.7" r="4.3" fill="#660000"/>
<circle cx="520.9" cy="397.9" r="4.3" fill="#660000"/>
<circle cx="530.7" cy="403.0" r="4.3" fill="#660000"/>
<circle cx="540.5" cy="393.7" r="4.3" fill="#660000"/>
<circle cx="550.4" cy="395.4" r="4.3" fill="#660000"/>
<circle cx="560.2" cy="407.1" r="4.3" fill="#660000"/>
<circle cx="570.0" cy="413.0" r="4.3" fill="#660000"/>
<circle cx="579.8" cy="401.8" r="4.3" fill="#660000"/>
<circle cx="589.7" cy="393.4" r="4.3" fill="#660000"/>
<circle cx="599.5" cy="410.8" r="4.3" fill="#660000"/>
<circle cx="609.3" cy="406.3" r="4.3" fill="#660000"/>
<circle cx="619.2" cy="408.3" r="4.3" fill="#660000"/>
<circle cx="629.0" cy="400.4" r="4.3" fill="#660000"/>
<circle cx="638.8" cy="401.3" r="4.3" fill="#660000"/>
<circle cx="648.7" cy="410.5" r="4.3" fill="#660000"/>
<circle cx="658.5" cy="406.6" r="4.3" fill="#660000"/>
<circle cx="668.3" cy="416.0" r="4.3" fill="#660000"/>
<circle cx="678.1" cy="418.1" r="4.3" fill="#660000"/>
<circle cx="688.0" cy="406.3" r="4.3" fill="#660000"/>
<circle cx="697.8" cy="409.2" r="4.3" fill="#660000"/>
<circle cx="707.6" cy="414.4" r="4.3" fill="#660000"/>
<circle cx="717.5" cy="414.4" r="4.3" fill="#660000"/>
<circle cx="727.3" cy="412.5" r="4.3" fill="#660000"/>
<circle cx="737.1" cy="385.7" r="4.3" fill="#660000"/>
<circle cx="747.0" cy="393.4" r="4.3" fill="#660000"/>
<circle cx="756.8" cy="392.1" r="4.3" fill="#660000"/>
<circle cx="766.6" cy="377.8" r="4.3" fill="#660000"/>
<circle cx="786.3" cy="375.8" r="4.3" fill="#660000"/>
<circle cx="796.1" cy="360.2" r="4.3" fill="#660000"/>
<circle cx="805.9" cy="374.8" r="4.3" fill="#660000"/>
<circle cx="815.8" cy="370.2" r="4.3" fill="#660000"/>
<circle cx="825.6" cy="354.0" r="4.3" fill="#660000"/>
<circle cx="835.4" cy="336.7" r="4.3" fill="#660000"/>
<circle cx="845.2" cy="369.9" r="4.3" fill="#660000"/>
<circle cx="855.1" cy="366.0" r="4.3" fill="#660000"/>
<circle cx="776.4" cy="399.9" r="4.3" fill="#660000"/>
<circle cx="864.9" cy="405.2" r="4.3" fill="#660000"/>
<circle cx="874.7" cy="455.5" r="4.3" fill="#660000"/>
<circle cx="884.6" cy="513.4" r="4.3" fill="#660000"/>
<circle cx="894.4" cy="555.1" r="4.3" fill="#660000"/>
<circle cx="904.2" cy="612.6" r="4.3" fill="#660000"/>
<circle cx="914.1" cy="632.3" r="4.3" fill="#660000"/>
<line x1="816.80" y1="38.00" x2="910.60" y2="647.40" stroke="#000" stroke-width="1.0" />
</g>
<circle cx="150.7" cy="397.30" r="4.5" fill="#660066"/>
<text x="179.30" y="404.60" font-size="21.0" text-anchor="start" fill="#000" >0,5 K/min</text>
<circle cx="150.7" cy="423.27" r="4.5" fill="#4f00ff"/>
<text x="179.30" y="430.57" font-size="21.0" text-anchor="start" fill="#000" >1 K/min</text>
<circle cx="150.7" cy="449.24" r="4.5" fill="#00aaff"/>
<text x="179.30" y="456.54" font-size="21.0" text-anchor="start" fill="#000" >2 K/min</text>
<circle cx="150.7" cy="475.21" r="4.5" fill="#11ff11"/>
<text x="179.30" y="482.51" font-size="21.0" text-anchor="start" fill="#000" >5 K/min</text>
<circle cx="150.7" cy="501.18" r="4.5" fill="#c4ff05"/>
<text x="179.30" y="508.48" font-size="21.0" text-anchor="start" fill="#000" >10 K/min</text>
<circle cx="150.7" cy="527.15" r="4.5" fill="#ffb000"/>
<text x="179.30" y="534.45" font-size="21.0" text-anchor="start" fill="#000" >15 K/min</text>
<circle cx="150.7" cy="553.12" r="4.5" fill="#ff0000"/>
<text x="179.30" y="560.42" font-size="21.0" text-anchor="start" fill="#000" >30 K/min</text>
<circle cx="150.7" cy="579.09" r="4.5" fill="#ff0c0c"/>
<text x="179.30" y="586.39" font-size="21.0" text-anchor="start" fill="#000" >75 K/min</text>
<circle cx="150.7" cy="605.06" r="4.5" fill="#c00000"/>
<text x="179.30" y="612.36" font-size="21.0" text-anchor="start" fill="#000" >150 K/min</text>
<circle cx="150.7" cy="631.03" r="4.5" fill="#660000"/>
<text x="179.30" y="638.33" font-size="21.0" text-anchor="start" fill="#000" >300 K/min</text>
<text x="1.60" y="807.60" font-size="38.7" font-weight="bold" text-anchor="start" fill="#000" >(b)</text>
<line x1="130.45" y1="873.40" x2="943.00" y2="1313.00" stroke="#0000ff" stroke-width="1.8" />
<path d="M130.45,815.90V1351.25H943.3" stroke="#000" stroke-width="2.1" fill="none" stroke-linejoin="round" stroke-linecap="round"/>
<text x="117.20" y="1358.25" font-size="26.5" text-anchor="end" fill="#000" >36.0</text>
<text x="117.20" y="1251.18" font-size="26.5" text-anchor="end" fill="#000" >36.5</text>
<text x="117.20" y="1144.11" font-size="26.5" text-anchor="end" fill="#000" >37.0</text>
<text x="117.20" y="1037.04" font-size="26.5" text-anchor="end" fill="#000" >37.5</text>
<text x="117.20" y="929.97" font-size="26.5" text-anchor="end" fill="#000" >38.0</text>
<text x="117.20" y="822.90" font-size="26.5" text-anchor="end" fill="#000" >38.5</text>
<text x="130.65" y="1392.5" font-size="25.5" text-anchor="middle">10<tspan dy="-13.5" font-size="14.5">-1</tspan></text>
<text x="241.94" y="1392.5" font-size="25.5" text-anchor="middle">10<tspan dy="-13.5" font-size="14.5">0</tspan></text>
<text x="353.23" y="1392.5" font-size="25.5" text-anchor="middle">10<tspan dy="-13.5" font-size="14.5">1</tspan></text>
<text x="464.52" y="1392.5" font-size="25.5" text-anchor="middle">10<tspan dy="-13.5" font-size="14.5">2</tspan></text>
<text x="575.81" y="1392.5" font-size="25.5" text-anchor="middle">10<tspan dy="-13.5" font-size="14.5">3</tspan></text>
<text x="687.10" y="1392.5" font-size="25.5" text-anchor="middle">10<tspan dy="-13.5" font-size="14.5">4</tspan></text>
<text x="798.39" y="1392.5" font-size="25.5" text-anchor="middle">10<tspan dy="-13.5" font-size="14.5">5</tspan></text>
<text x="909.68" y="1392.5" font-size="25.5" text-anchor="middle">10<tspan dy="-13.5" font-size="14.5">6</tspan></text>
<path d="M130.45,1351.25L121.15,1351.25M130.45,1297.71L126.05,1297.71M130.45,1244.18L121.15,1244.18M130.45,1190.64L126.05,1190.64M130.45,1137.11L121.15,1137.11M130.45,1083.58L126.05,1083.58M130.45,1030.04L121.15,1030.04M130.45,976.50L126.05,976.50M130.45,922.97L121.15,922.97M130.45,869.44L126.05,869.44M130.45,815.90L121.15,815.90M130.45,1351.25L130.45,1360.45M163.95,1351.25L163.95,1355.65M183.55,1351.25L183.55,1355.65M197.45,1351.25L197.45,1355.65M208.24,1351.25L208.24,1355.65M217.05,1351.25L217.05,1355.65M224.50,1351.25L224.50,1355.65M230.95,1351.25L230.95,1355.65M236.65,1351.25L236.65,1355.65M241.74,1351.25L241.74,1360.45M275.24,1351.25L275.24,1355.65M294.84,1351.25L294.84,1355.65M308.74,1351.25L308.74,1355.65M319.53,1351.25L319.53,1355.65M328.34,1351.25L328.34,1355.65M335.79,1351.25L335.79,1355.65M342.24,1351.25L342.24,1355.65M347.94,1351.25L347.94,1355.65M353.03,1351.25L353.03,1360.45M386.53,1351.25L386.53,1355.65M406.13,1351.25L406.13,1355.65M420.03,1351.25L420.03,1355.65M430.82,1351.25L430.82,1355.65M439.63,1351.25L439.63,1355.65M447.08,1351.25L447.08,1355.65M453.53,1351.25L453.53,1355.65M459.23,1351.25L459.23,1355.65M464.32,1351.25L464.32,1360.45M497.82,1351.25L497.82,1355.65M517.42,1351.25L517.42,1355.65M531.32,1351.25L531.32,1355.65M542.11,1351.25L542.11,1355.65M550.92,1351.25L550.92,1355.65M558.37,1351.25L558.37,1355.65M564.82,1351.25L564.82,1355.65M570.52,1351.25L570.52,1355.65M575.61,1351.25L575.61,1360.45M609.11,1351.25L609.11,1355.65M628.71,1351.25L628.71,1355.65M642.61,1351.25L642.61,1355.65M653.40,1351.25L653.40,1355.65M662.21,1351.25L662.21,1355.65M669.66,1351.25L669.66,1355.65M676.11,1351.25L676.11,1355.65M681.81,1351.25L681.81,1355.65M686.90,1351.25L686.90,1360.45M720.40,1351.25L720.40,1355.65M740.00,1351.25L740.00,1355.65M753.90,1351.25L753.90,1355.65M764.69,1351.25L764.69,1355.65M773.50,1351.25L773.50,1355.65M780.95,1351.25L780.95,1355.65M787.40,1351.25L787.40,1355.65M793.10,1351.25L793.10,1355.65M798.19,1351.25L798.19,1360.45M831.69,1351.25L831.69,1355.65M851.29,1351.25L851.29,1355.65M865.19,1351.25L865.19,1355.65M875.98,1351.25L875.98,1355.65M884.79,1351.25L884.79,1355.65M892.24,1351.25L892.24,1355.65M898.69,1351.25L898.69,1355.65M904.39,1351.25L904.39,1355.65M909.48,1351.25L909.48,1360.45M942.98,1351.25L942.98,1355.65" stroke="#000" stroke-width="1.8" stroke-linecap="round" fill="none"/>
<rect x="202.49" y="912.65" width="11.5" height="11.5" fill="#0000ff"/>
<rect x="235.99" y="926.25" width="11.5" height="11.5" fill="#0000ff"/>
<rect x="269.49" y="947.75" width="11.5" height="11.5" fill="#0000ff"/>
<rect x="313.78" y="974.55" width="11.5" height="11.5" fill="#0000ff"/>
<rect x="347.28" y="987.35" width="11.5" height="11.5" fill="#0000ff"/>
<rect x="366.88" y="993.05" width="11.5" height="11.5" fill="#0000ff"/>
<rect x="400.38" y="1010.75" width="11.5" height="11.5" fill="#0000ff"/>
<rect x="444.67" y="1036.25" width="11.5" height="11.5" fill="#0000ff"/>
<rect x="478.17" y="1064.15" width="11.5" height="11.5" fill="#0000ff"/>
<rect x="511.67" y="1081.25" width="11.5" height="11.5" fill="#0000ff"/>
<line x1="141.10" y1="933.60" x2="241.50" y2="933.60" stroke="#8a8a8a" stroke-width="1.7" stroke-dasharray="6.7,5.1"/>
<line x1="241.50" y1="933.60" x2="241.50" y2="1340.00" stroke="#8a8a8a" stroke-width="1.7" stroke-dasharray="6.7,5.1"/>
<line x1="131.10" y1="1286.90" x2="893.20" y2="1286.90" stroke="#8a8a8a" stroke-width="1.7" stroke-dasharray="6.7,5.1"/>
<line x1="893.20" y1="1286.90" x2="893.20" y2="1340.00" stroke="#8a8a8a" stroke-width="1.7" stroke-dasharray="6.7,5.1"/>
<text x="259.40" y="921.00" font-size="25.4" font-weight="bold" text-anchor="start" fill="#000" >Annealed</text>
<text x="663.60" y="1266.20" font-size="25.2" font-weight="bold" text-anchor="start" fill="#ff0000" >As-received</text>
<text x="713.3" y="1336.1" font-size="25.0" font-weight="bold" fill="#ff0000">0.7.10<tspan dy="-12.6" font-size="15.5">6</tspan><tspan dy="12.6"> K.min</tspan><tspan dy="-12.2" font-size="14.3">-1</tspan></text>
<text transform="translate(38.8,1100) rotate(-90)" font-size="27.5" font-weight="bold" text-anchor="middle">Brillouin shift (Ghz)</text>
<text x="539.5" y="1437.6" font-size="27" font-weight="bold" text-anchor="middle">Cooling rate (K.min<tspan dy="-13.4" font-size="17">-1</tspan><tspan dy="13.4">)</tspan></text>
<text x="1.40" y="1513.30" font-size="39.2" font-weight="bold" text-anchor="start" fill="#000" >(c)</text>
<line x1="134.00" y1="2028.00" x2="932.90" y2="1554.60" stroke="#2a2aff" stroke-width="1.3" />
<path d="M134.0,1522.38V2069.85H932.8" stroke="#000" stroke-width="2.1" fill="none" stroke-linejoin="round" stroke-linecap="round"/>
<text x="116.00" y="2077.45" font-size="26.5" text-anchor="end" fill="#000" >540</text>
<text x="116.00" y="2016.62" font-size="26.5" text-anchor="end" fill="#000" >550</text>
<text x="116.00" y="1955.79" font-size="26.5" text-anchor="end" fill="#000" >560</text>
<text x="116.00" y="1894.96" font-size="26.5" text-anchor="end" fill="#000" >570</text>
<text x="116.00" y="1834.13" font-size="26.5" text-anchor="end" fill="#000" >580</text>
<text x="116.00" y="1773.30" font-size="26.5" text-anchor="end" fill="#000" >590</text>
<text x="116.00" y="1712.47" font-size="26.5" text-anchor="end" fill="#000" >600</text>
<text x="116.00" y="1651.64" font-size="26.5" text-anchor="end" fill="#000" >610</text>
<text x="116.00" y="1590.81" font-size="26.5" text-anchor="end" fill="#000" >620</text>
<text x="116.00" y="1529.98" font-size="26.5" text-anchor="end" fill="#000" >630</text>
<text x="133.40" y="2113.0" font-size="26.5" text-anchor="middle">10<tspan dy="-14.5" font-size="15.2">-1</tspan></text>
<text x="247.51" y="2113.0" font-size="26.5" text-anchor="middle">10<tspan dy="-14.5" font-size="15.2">0</tspan></text>
<text x="361.62" y="2113.0" font-size="26.5" text-anchor="middle">10<tspan dy="-14.5" font-size="15.2">1</tspan></text>
<text x="475.73" y="2113.0" font-size="26.5" text-anchor="middle">10<tspan dy="-14.5" font-size="15.2">2</tspan></text>
<text x="589.84" y="2113.0" font-size="26.5" text-anchor="middle">10<tspan dy="-14.5" font-size="15.2">3</tspan></text>
<text x="703.95" y="2113.0" font-size="26.5" text-anchor="middle">10<tspan dy="-14.5" font-size="15.2">4</tspan></text>
<text x="818.06" y="2113.0" font-size="26.5" text-anchor="middle">10<tspan dy="-14.5" font-size="15.2">5</tspan></text>
<text x="932.17" y="2113.0" font-size="26.5" text-anchor="middle">10<tspan dy="-14.5" font-size="15.2">6</tspan></text>
<path d="M134.00,2069.85L123.90,2069.85M134.00,2039.43L129.20,2039.43M134.00,2009.02L123.90,2009.02M134.00,1978.61L129.20,1978.61M134.00,1948.19L123.90,1948.19M134.00,1917.77L129.20,1917.77M134.00,1887.36L123.90,1887.36M134.00,1856.94L129.20,1856.94M134.00,1826.53L123.90,1826.53M134.00,1796.11L129.20,1796.11M134.00,1765.70L123.90,1765.70M134.00,1735.28L129.20,1735.28M134.00,1704.87L123.90,1704.87M134.00,1674.45L129.20,1674.45M134.00,1644.04L123.90,1644.04M134.00,1613.62L129.20,1613.62M134.00,1583.21L123.90,1583.21M134.00,1552.79L129.20,1552.79M134.00,1522.38L123.90,1522.38M134.00,2069.85L134.00,2079.75M168.35,2069.85L168.35,2074.65M188.44,2069.85L188.44,2074.65M202.70,2069.85L202.70,2074.65M213.76,2069.85L213.76,2074.65M222.79,2069.85L222.79,2074.65M230.43,2069.85L230.43,2074.65M237.05,2069.85L237.05,2074.65M242.89,2069.85L242.89,2074.65M248.11,2069.85L248.11,2079.75M282.46,2069.85L282.46,2074.65M302.55,2069.85L302.55,2074.65M316.81,2069.85L316.81,2074.65M327.87,2069.85L327.87,2074.65M336.90,2069.85L336.90,2074.65M344.54,2069.85L344.54,2074.65M351.16,2069.85L351.16,2074.65M357.00,2069.85L357.00,2074.65M362.22,2069.85L362.22,2079.75M396.57,2069.85L396.57,2074.65M416.66,2069.85L416.66,2074.65M430.92,2069.85L430.92,2074.65M441.98,2069.85L441.98,2074.65M451.01,2069.85L451.01,2074.65M458.65,2069.85L458.65,2074.65M465.27,2069.85L465.27,2074.65M471.11,2069.85L471.11,2074.65M476.33,2069.85L476.33,2079.75M510.68,2069.85L510.68,2074.65M530.77,2069.85L530.77,2074.65M545.03,2069.85L545.03,2074.65M556.09,2069.85L556.09,2074.65M565.12,2069.85L565.12,2074.65M572.76,2069.85L572.76,2074.65M579.38,2069.85L579.38,2074.65M585.22,2069.85L585.22,2074.65M590.44,2069.85L590.44,2079.75M624.79,2069.85L624.79,2074.65M644.88,2069.85L644.88,2074.65M659.14,2069.85L659.14,2074.65M670.20,2069.85L670.20,2074.65M679.23,2069.85L679.23,2074.65M686.87,2069.85L686.87,2074.65M693.49,2069.85L693.49,2074.65M699.33,2069.85L699.33,2074.65M704.55,2069.85L704.55,2079.75M738.90,2069.85L738.90,2074.65M758.99,2069.85L758.99,2074.65M773.25,2069.85L773.25,2074.65M784.31,2069.85L784.31,2074.65M793.34,2069.85L793.34,2074.65M800.98,2069.85L800.98,2074.65M807.60,2069.85L807.60,2074.65M813.44,2069.85L813.44,2074.65M818.66,2069.85L818.66,2079.75M853.01,2069.85L853.01,2074.65M873.10,2069.85L873.10,2074.65M887.36,2069.85L887.36,2074.65M898.42,2069.85L898.42,2074.65M907.45,2069.85L907.45,2074.65M915.09,2069.85L915.09,2074.65M921.71,2069.85L921.71,2074.65M927.55,2069.85L927.55,2074.65M932.77,2069.85L932.77,2079.75" stroke="#000" stroke-width="1.9" stroke-linecap="round" fill="none"/>
<path d="M213.76,1971.10V1991.90M208.56,1971.10H218.96M208.56,1991.90H218.96" stroke="#3030ff" stroke-width="1.3" fill="none"/>
<rect x="208.36" y="1976.10" width="10.8" height="10.8" fill="#0000ff"/>
<path d="M248.11,1951.00V1971.80M242.91,1951.00H253.31M242.91,1971.80H253.31" stroke="#3030ff" stroke-width="1.3" fill="none"/>
<rect x="242.71" y="1956.00" width="10.8" height="10.8" fill="#0000ff"/>
<path d="M282.46,1932.70V1953.50M277.26,1932.70H287.66M277.26,1953.50H287.66" stroke="#3030ff" stroke-width="1.3" fill="none"/>
<rect x="277.06" y="1937.70" width="10.8" height="10.8" fill="#0000ff"/>
<path d="M327.87,1907.90V1928.70M322.67,1907.90H333.07M322.67,1928.70H333.07" stroke="#3030ff" stroke-width="1.3" fill="none"/>
<rect x="322.47" y="1912.90" width="10.8" height="10.8" fill="#0000ff"/>
<path d="M362.22,1879.00V1899.80M357.02,1879.00H367.42M357.02,1899.80H367.42" stroke="#3030ff" stroke-width="1.3" fill="none"/>
<rect x="356.82" y="1884.00" width="10.8" height="10.8" fill="#0000ff"/>
<path d="M382.31,1864.30V1885.10M377.11,1864.30H387.51M377.11,1885.10H387.51" stroke="#3030ff" stroke-width="1.3" fill="none"/>
<rect x="376.91" y="1869.30" width="10.8" height="10.8" fill="#0000ff"/>
<path d="M416.66,1847.20V1868.00M411.46,1847.20H421.86M411.46,1868.00H421.86" stroke="#3030ff" stroke-width="1.3" fill="none"/>
<rect x="411.26" y="1852.20" width="10.8" height="10.8" fill="#0000ff"/>
<path d="M462.07,1819.80V1840.60M456.87,1819.80H467.27M456.87,1840.60H467.27" stroke="#3030ff" stroke-width="1.3" fill="none"/>
<rect x="456.67" y="1824.80" width="10.8" height="10.8" fill="#0000ff"/>
<path d="M496.42,1806.60V1827.40M491.22,1806.60H501.62M491.22,1827.40H501.62" stroke="#3030ff" stroke-width="1.3" fill="none"/>
<rect x="491.02" y="1811.60" width="10.8" height="10.8" fill="#0000ff"/>
<path d="M530.77,1787.30V1808.10M525.57,1787.30H535.97M525.57,1808.10H535.97" stroke="#3030ff" stroke-width="1.3" fill="none"/>
<rect x="525.37" y="1792.30" width="10.8" height="10.8" fill="#0000ff"/>
<line x1="135.30" y1="1565.20" x2="916.20" y2="1565.20" stroke="#b0b0b0" stroke-width="1.4" stroke-dasharray="3.4,3.4"/>
<line x1="916.20" y1="1565.20" x2="916.20" y2="2066.60" stroke="#b0b0b0" stroke-width="1.4" stroke-dasharray="3.4,3.4"/>
<line x1="135.30" y1="1961.10" x2="248.00" y2="1961.10" stroke="#b0b0b0" stroke-width="1.4" stroke-dasharray="3.4,3.4"/>
<line x1="248.00" y1="1961.10" x2="248.00" y2="2066.60" stroke="#b0b0b0" stroke-width="1.4" stroke-dasharray="3.4,3.4"/>
<text x="145.0" y="1543.3" font-size="26" font-weight="bold" fill="#ff0000">T<tspan dy="10.5" font-size="15.5">f</tspan><tspan dy="-10.5"> = 623 °C</tspan></text>
<text x="779.20" y="1547.80" font-size="26.5" font-weight="bold" text-anchor="start" fill="#ff0000" >As-received</text>
<text x="270.60" y="1977.40" font-size="26.4" font-weight="bold" text-anchor="start" fill="#000" >Annealed</text>
<text transform="translate(28.3,1810.4) rotate(-90)" font-size="28.0" font-weight="bold" text-anchor="middle">Fictive temperature (°C)</text>
<text x="533" y="2157.4" font-size="28" font-weight="bold" text-anchor="middle">Cooling rate (K.min<tspan dy="-14.2" font-size="17">-1</tspan><tspan dy="14.2">)</tspan></text>
</svg></body></html>
